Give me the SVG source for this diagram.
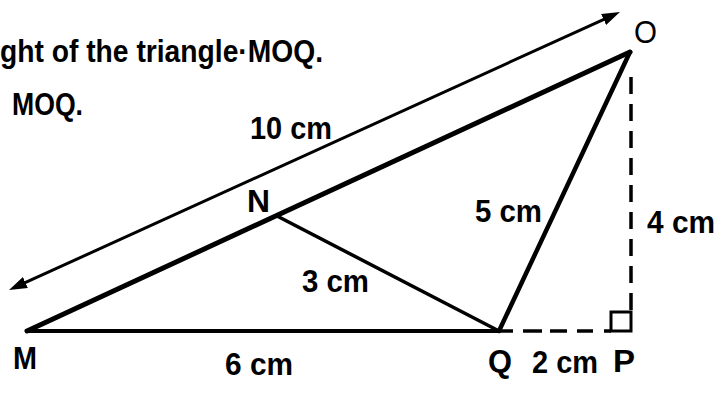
<svg xmlns="http://www.w3.org/2000/svg" width="723" height="393" viewBox="0 0 723 393">
  <style>
    .t { font-family: "Liberation Sans", Arial, sans-serif; font-weight: bold; fill: #000; }
    .hdr { font-size: 31px; }
    .lbl { font-size: 31px; }
    .ln { stroke: #000; stroke-linecap: round; fill: none; }
    .dash { stroke: #000; stroke-width: 3.5; fill: none; }
  </style>
  <defs>
    <marker id="arr" viewBox="0 0 18 12" refX="10" refY="6" markerWidth="18" markerHeight="12" markerUnits="userSpaceOnUse" orient="auto-start-reverse">
      <path d="M0,0 L18,6 L0,12 z" fill="#000"/>
    </marker>
  </defs>
  <rect width="723" height="393" fill="#fff"/>

  <g id="header">
    <text class="t hdr" x="0" y="62" textLength="323" lengthAdjust="spacingAndGlyphs">ght of the triangle·MOQ.</text>
    <text class="t hdr" x="12" y="115" textLength="71" lengthAdjust="spacingAndGlyphs">MOQ.</text>
  </g>

  <g id="connectors">
    <line id="arrow-10cm" class="ln" x1="16.3" y1="286.7" x2="612.7" y2="15.3" stroke-width="3" stroke-linecap="butt" marker-start="url(#arr)" marker-end="url(#arr)"/>
    <line id="MO" class="ln" x1="27" y1="331" x2="630" y2="52" stroke-width="5"/>
    <line id="MQ" class="ln" x1="27" y1="331" x2="499" y2="331" stroke-width="4"/>
    <line id="QO" class="ln" x1="499" y1="331" x2="630" y2="52" stroke-width="4.5"/>
    <line id="NQ" class="ln" x1="277" y1="216" x2="499" y2="331" stroke-width="3.5"/>
    <g id="QP-dashed" class="dash">
      <line x1="499" y1="331" x2="513" y2="331"/>
      <line x1="523" y1="331" x2="542" y2="331"/>
      <line x1="550" y1="331" x2="567" y2="331"/>
      <line x1="577" y1="331" x2="593" y2="331"/>
      <line x1="604" y1="331" x2="611" y2="331"/>
    </g>
    <line id="OP-dashed" class="dash" x1="631" y1="77" x2="631" y2="312" stroke-dasharray="17 10"/>
    <rect id="right-angle" x="611" y="312" width="20" height="19" fill="none" stroke="#000" stroke-width="3"/>
  </g>

  <g id="node-M"><text class="t lbl" x="13" y="369" textLength="24" lengthAdjust="spacingAndGlyphs">M</text></g>
  <g id="node-N"><text class="t lbl" x="247" y="212" textLength="23" lengthAdjust="spacingAndGlyphs">N</text></g>
  <g id="node-O"><text class="t lbl" x="634" y="43" textLength="23" lengthAdjust="spacingAndGlyphs" style="font-weight:normal">O</text></g>
  <g id="node-Q"><text class="t lbl" x="488" y="372" textLength="24" lengthAdjust="spacingAndGlyphs">Q</text></g>
  <g id="node-P"><text class="t lbl" x="613" y="372" textLength="22" lengthAdjust="spacingAndGlyphs">P</text></g>

  <g id="labels">
    <text class="t lbl" x="250" y="139" textLength="82" lengthAdjust="spacingAndGlyphs">10 cm</text>
    <text class="t lbl" x="475" y="222" textLength="67" lengthAdjust="spacingAndGlyphs">5 cm</text>
    <text class="t lbl" x="647" y="233" textLength="68" lengthAdjust="spacingAndGlyphs">4 cm</text>
    <text class="t lbl" x="302" y="292" textLength="67" lengthAdjust="spacingAndGlyphs">3 cm</text>
    <text class="t lbl" x="225" y="375" textLength="68" lengthAdjust="spacingAndGlyphs">6 cm</text>
    <text class="t lbl" x="532" y="373" textLength="66" lengthAdjust="spacingAndGlyphs">2 cm</text>
  </g>
</svg>
